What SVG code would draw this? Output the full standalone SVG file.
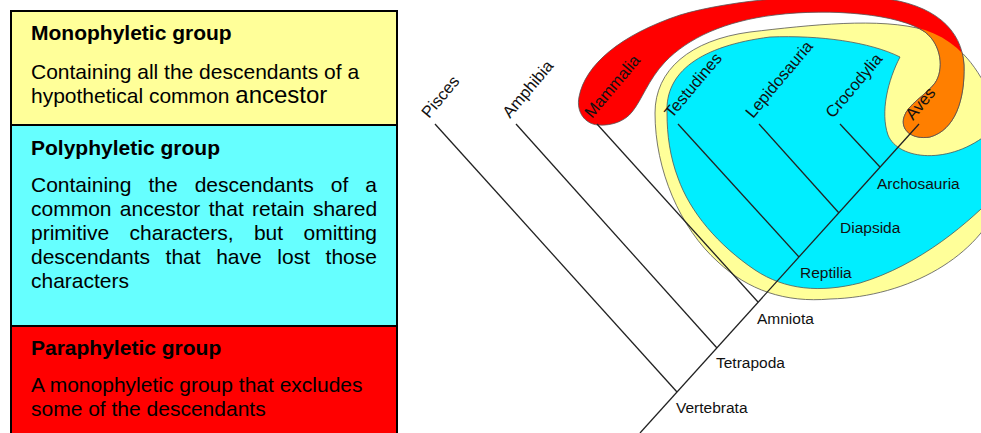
<svg xmlns="http://www.w3.org/2000/svg" width="981" height="433" viewBox="0 0 981 433">
<defs>
<style>
.box{stroke:#000;stroke-width:2}
.title{font-family:"Liberation Sans",Arial,sans-serif;font-size:21px;font-weight:bold;fill:#000}
.body{font-family:"Liberation Sans",Arial,sans-serif;font-size:21px;fill:#000}
.lbl{font-family:"Liberation Sans",Arial,sans-serif;font-size:15.5px;fill:#111}
.tip{font-family:"Liberation Sans",Arial,sans-serif;font-size:16.5px;fill:#111}
.edge{stroke:#222;stroke-width:1.3;fill:none}
.clade{stroke:#555;stroke-width:0.8}
</style>
<path id="redPath" d="M 598,125 C 585,124 576,112 579,97 C 585,65 620,35 680,15 C 730,0 820,-8 880,-2 C 935,4 962,30 964,65 C 965,100 955,130 930,137 C 912,140 900,130 904,117 C 908,104 925,96 935,83 C 944,70 942,45 925,32 C 900,14 830,8 775,15 C 725,21 688,38 665,62 C 648,80 642,100 632,112 C 625,121 612,126 598,125 Z"/>
<path id="yellowPath" d="M 655,113 C 655,70 690,40 750,32 C 810,25 880,17 925,30 C 955,40 975,62 990,95 L 1000,200 C 980,255 910,297 830,299 C 785,303 748,290 718,262 C 680,228 655,170 655,113 Z"/>
<clipPath id="yclip"><use href="#yellowPath"/></clipPath>
</defs>
<rect x="0" y="0" width="981" height="433" fill="#fff"/>

<g id="monophyletic">
<rect class="box" x="11" y="11" width="386" height="114" fill="#FFFF99"/>
<text class="title" x="31" y="40">Monophyletic group</text>
<text class="body" x="31" y="79">Containing all the descendants of a</text>
<text class="body" x="31" y="103">hypothetical common <tspan font-size="24px">ancestor</tspan></text>
</g>
<g id="polyphyletic">
<rect class="box" x="11" y="125" width="386" height="201" fill="#66FFFF"/>
<text class="title" x="31" y="155">Polyphyletic group</text>
<text class="body" y="192"><tspan x="31">Containing</tspan><tspan x="148.5">the</tspan><tspan x="194.7">descendants</tspan><tspan x="330.8">of</tspan><tspan x="365.3">a</tspan></text>
<text class="body" y="216"><tspan x="31">common</tspan><tspan x="119.8">ancestor</tspan><tspan x="208.7">that</tspan><tspan x="252">retain</tspan><tspan x="312.9">shared</tspan></text>
<text class="body" y="240"><tspan x="31">primitive</tspan><tspan x="129.6">characters,</tspan><tspan x="253.9">but</tspan><tspan x="303.5">omitting</tspan></text>
<text class="body" y="264"><tspan x="31">descendants</tspan><tspan x="165.6">that</tspan><tspan x="216.2">have</tspan><tspan x="277.3">lost</tspan><tspan x="325.6">those</tspan></text>
<text class="body" x="31" y="288">characters</text>
</g>
<g id="paraphyletic">
<rect class="box" x="11" y="326" width="386" height="120" fill="#FF0000"/>
<text class="title" x="31" y="355">Paraphyletic group</text>
<text class="body" x="31" y="392">A monophyletic group that excludes</text>
<text class="body" x="31" y="416">some of the descendants</text>
</g>

<g id="clade-sauropsida">
<use href="#yellowPath" class="clade" fill="#FFFF99"/>
</g>
<g id="clade-reptilia-poly">
<path class="clade" fill="#00EEFF" d="M 667,113 C 665,72 700,46 770,37 C 820,35 870,42 900,57 C 888,80 880,112 888,135 C 898,160 950,166 990,132 L 1000,190 C 970,222 920,265 860,283 C 820,293 785,290 755,270 C 718,245 690,212 678,178 C 670,157 667,135 667,113 Z"/>
</g>
<g id="clade-para">
<use href="#redPath" class="clade" fill="#FF0000"/>
<use href="#redPath" class="clade" fill="#FF7F00" clip-path="url(#yclip)"/>
</g>

<g id="connectors">
<line class="edge" x1="640" y1="433" x2="919" y2="124"/>
<line class="edge" x1="677" y1="392" x2="435" y2="124"/>
<line class="edge" x1="717" y1="348" x2="516" y2="124"/>
<line class="edge" x1="758" y1="302" x2="597" y2="124"/>
<line class="edge" x1="799" y1="257" x2="678" y2="124"/>
<line class="edge" x1="839" y1="213" x2="759" y2="124"/>
<line class="edge" x1="880" y1="167" x2="840" y2="124"/>
</g>

<g id="tip-pisces"><text class="tip" transform="translate(429,119) rotate(-50)">Pisces</text></g>
<g id="tip-amphibia"><text class="tip" transform="translate(510,119) rotate(-50)">Amphibia</text></g>
<g id="tip-mammalia"><text class="tip" transform="translate(592,119) rotate(-50)">Mammalia</text></g>
<g id="tip-testudines"><text class="tip" transform="translate(672,119) rotate(-50)">Testudines</text></g>
<g id="tip-lepidosauria"><text class="tip" transform="translate(753,119) rotate(-50)">Lepidosauria</text></g>
<g id="tip-crocodylia"><text class="tip" transform="translate(833,119) rotate(-50)">Crocodylia</text></g>
<g id="tip-aves"><text class="tip" transform="translate(913,121) rotate(-50)">Aves</text></g>

<g id="node-vertebrata"><text class="lbl" x="676" y="413">Vertebrata</text></g>
<g id="node-tetrapoda"><text class="lbl" x="716" y="368">Tetrapoda</text></g>
<g id="node-amniota"><text class="lbl" x="757" y="324">Amniota</text></g>
<g id="node-reptilia"><text class="lbl" x="800" y="278">Reptilia</text></g>
<g id="node-diapsida"><text class="lbl" x="840" y="233">Diapsida</text></g>
<g id="node-archosauria"><text class="lbl" x="877" y="189">Archosauria</text></g>
</svg>
